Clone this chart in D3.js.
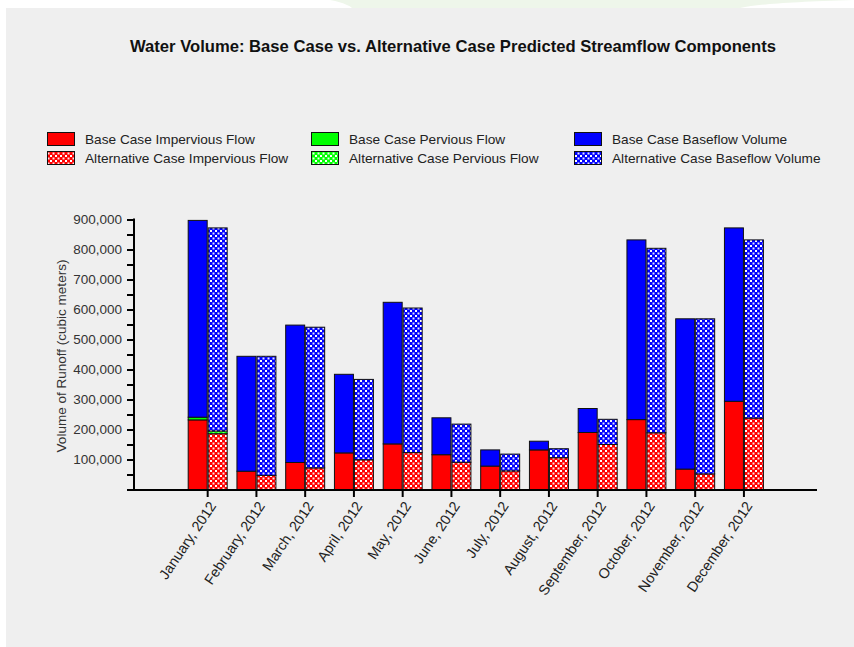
<!DOCTYPE html>
<html>
<head>
<meta charset="utf-8">
<script src="https://cdn.jsdelivr.net/npm/d3@7"></script>
<style>
  html, body { margin: 0; padding: 0; background: #ffffff; }
  svg { display: block; }
  text { font-family: "Liberation Sans", Arial, sans-serif; }
</style>
</head>
<body>
<svg id="chart" width="854" height="647"></svg>
<script>
// ---------------- DATA ----------------
const months = ["January, 2012", "February, 2012", "March, 2012", "April, 2012", "May, 2012", "June, 2012",
  "July, 2012", "August, 2012", "September, 2012", "October, 2012", "November, 2012", "December, 2012"];

const baseImpervious = [232000, 61000, 90000, 122000, 152000, 116000, 78000, 132000, 190000, 233000, 68000, 294000];
const basePervious   = [9000, 0, 0, 0, 0, 0, 0, 0, 0, 0, 0, 0];
const baseBaseflow   = [656000, 383000, 458000, 262000, 472000, 123000, 54000, 29000, 80000, 599000, 501000, 578000];

const altImpervious  = [186000, 47000, 72000, 99000, 123000, 91000, 62000, 106000, 150000, 189000, 52000, 238000];
const altPervious    = [9000, 0, 0, 0, 0, 0, 0, 0, 0, 0, 0, 0];
const altBaseflow    = [677000, 397000, 469000, 268000, 482000, 127000, 56000, 30000, 84000, 615000, 517000, 594000];

const yTickValues = [0, 50000, 100000, 150000, 200000, 250000, 300000, 350000, 400000, 450000,
  500000, 550000, 600000, 650000, 700000, 750000, 800000, 850000, 900000];

const legendLabels = ["Base Case Impervious Flow", "Base Case Pervious Flow", "Base Case Baseflow Volume",
  "Alternative Case Impervious Flow", "Alternative Case Pervious Flow", "Alternative Case Baseflow Volume"];

const titleText = "Water Volume: Base Case vs. Alternative Case Predicted Streamflow Components";
const yAxisTitle = "Volume of Runoff (cubic meters)";

// ---------------- STYLE ----------------
const colors = { imperv: "#ff0000", perv: "#00ff00", base: "#0000ff" };
const FONT = "\"Liberation Sans\", Arial, sans-serif";

const svg = d3.select("#chart");

function fitSize(sel, base, target) {
  const w = sel.node().getComputedTextLength();
  return base * target / w;
}

// background
svg.append("rect").attr("x", 0).attr("y", 0).attr("width", 854).attr("height", 647).attr("fill", "#ffffff");
svg.append("path")
  .attr("d", "M330,0 C345,3 350,6 352,8 L740,8 C760,4 790,2 854,0 Z")
  .attr("fill", "#eef6ea");
svg.append("rect").attr("x", 6).attr("y", 8).attr("width", 848).attr("height", 639).attr("fill", "#efefef");

// patterns
const defs = svg.append("defs");
Object.entries(colors).forEach(([k, c]) => {
  const p = defs.append("pattern").attr("id", "pat-" + k)
    .attr("patternUnits", "userSpaceOnUse").attr("width", 5).attr("height", 5);
  p.append("rect").attr("width", 5).attr("height", 5).attr("fill", c);
  p.append("rect").attr("x", 0).attr("y", 0).attr("width", 2).attr("height", 2).attr("fill", "#ffffff");
  p.append("rect").attr("x", 2.5).attr("y", 2.5).attr("width", 2).attr("height", 2).attr("fill", "#ffffff").attr("opacity", 0.9);
});

// ---------------- SCALES ----------------
const y = d3.scaleLinear().domain([0, 900000]).range([489.5, 219.5]);
const x = d3.scaleBand().domain(months).range([183.3, 768.3]).paddingInner(0.18).paddingOuter(0.09);
const xCase = d3.scaleBand().domain(["base", "alt"]).range([0, x.bandwidth()]);

const keys = ["imperv", "perv", "base"];
const rows = months.map((m, i) => ({
  month: m,
  base: { imperv: baseImpervious[i], perv: basePervious[i], base: baseBaseflow[i] },
  alt: { imperv: altImpervious[i], perv: altPervious[i], base: altBaseflow[i] }
}));

const stack = d3.stack().keys(keys);
const caseStacks = {
  base: stack(rows.map(r => r.base)),
  alt: stack(rows.map(r => r.alt))
};

// ---------------- TITLE ----------------
const title = svg.append("text")
  .attr("x", 453).attr("y", 52)
  .attr("text-anchor", "middle")
  .attr("font-weight", "bold")
  .attr("font-size", 15)
  .attr("fill", "#111")
  .text(titleText);
title.attr("font-size", fitSize(title, 15, 647));

// ---------------- LEGEND ----------------
const legendCols = [47, 311, 574];
const legendRows = [139, 158];
const legendItems = [
  { label: legendLabels[0], key: "imperv", alt: false },
  { label: legendLabels[1], key: "perv", alt: false },
  { label: legendLabels[2], key: "base", alt: false },
  { label: legendLabels[3], key: "imperv", alt: true },
  { label: legendLabels[4], key: "perv", alt: true },
  { label: legendLabels[5], key: "base", alt: true }
];
const lg = svg.append("g");
let legendFont = 12.5;
legendItems.forEach((d, i) => {
  const cx = legendCols[i % 3], cy = legendRows[Math.floor(i / 3)];
  lg.append("rect")
    .attr("x", cx + 0.5).attr("y", cy - 6.5).attr("width", 27).attr("height", 13)
    .attr("fill", d.alt ? "url(#pat-" + d.key + ")" : colors[d.key])
    .attr("stroke", "#111").attr("stroke-width", 1);
  const t = lg.append("text")
    .attr("class", "lgtext")
    .attr("x", cx + 38).attr("y", cy).attr("dy", "0.35em")
    .attr("font-size", 12.5).attr("fill", "#222")
    .text(d.label);
  if (i === 0) legendFont = fitSize(t, 12.5, 170);
});
lg.selectAll(".lgtext").attr("font-size", legendFont);

// ---------------- BARS ----------------
const barsG = svg.append("g");
["base", "alt"].forEach(c => {
  caseStacks[c].forEach(layer => {
    const k = layer.key;
    barsG.append("g").selectAll("rect")
      .data(layer.map((d, i) => ({ d, i })).filter(o => o.d[1] > o.d[0]))
      .join("rect")
      .attr("x", o => x(months[o.i]) + xCase(c) + 0.5)
      .attr("width", xCase.bandwidth() - 1)
      .attr("y", o => y(o.d[1]))
      .attr("height", o => y(o.d[0]) - y(o.d[1]))
      .attr("fill", c === "alt" ? "url(#pat-" + k + ")" : colors[k])
      .attr("stroke", "#111")
      .attr("stroke-width", 1);
  });
});

// ---------------- AXES ----------------
const fmt = d3.format(",");
const yAxis = d3.axisLeft(y)
  .tickValues(yTickValues)
  .tickSize(7)
  .tickSizeOuter(0)
  .tickFormat(v => (v > 0 && v % 100000 === 0) ? fmt(v) : "");
const yg = svg.append("g").attr("transform", "translate(134,0)").call(yAxis);
yg.select(".domain").remove();
yg.selectAll(".tick line").attr("stroke", "#000").attr("stroke-width", 2);
yg.selectAll(".tick text")
  .attr("font-family", FONT)
  .attr("font-size", 13.5).attr("fill", "#333").attr("x", -12);

svg.append("line").attr("x1", 134).attr("x2", 134).attr("y1", 218.5).attr("y2", 491)
  .attr("stroke", "#000").attr("stroke-width", 2);

const xAxis = d3.axisBottom(x).tickSize(7).tickSizeOuter(0).tickFormat(d => d);
const xg = svg.append("g").attr("transform", "translate(0,490)").call(xAxis);
xg.select(".domain").remove();
xg.selectAll(".tick line").attr("stroke", "#000").attr("stroke-width", 2);
const xTexts = xg.selectAll(".tick text")
  .attr("font-family", FONT)
  .attr("font-size", 12.5).attr("fill", "#222")
  .attr("text-anchor", "end");
const xFont = fitSize(xg.select(".tick text"), 12.5, 90);
xTexts.attr("font-size", xFont)
  .attr("x", 5).attr("y", 13).attr("dy", "0.35em")
  .attr("transform", "rotate(-56, 5, 13)");

svg.append("line").attr("x1", 133).attr("x2", 817).attr("y1", 490).attr("y2", 490)
  .attr("stroke", "#000").attr("stroke-width", 2);

// y axis title
const yt = svg.append("text")
  .attr("transform", "translate(66,356) rotate(-90)")
  .attr("text-anchor", "middle")
  .attr("font-size", 12.5).attr("fill", "#333")
  .text(yAxisTitle);
yt.attr("font-size", fitSize(yt, 12.5, 193));
</script>
</body>
</html>
